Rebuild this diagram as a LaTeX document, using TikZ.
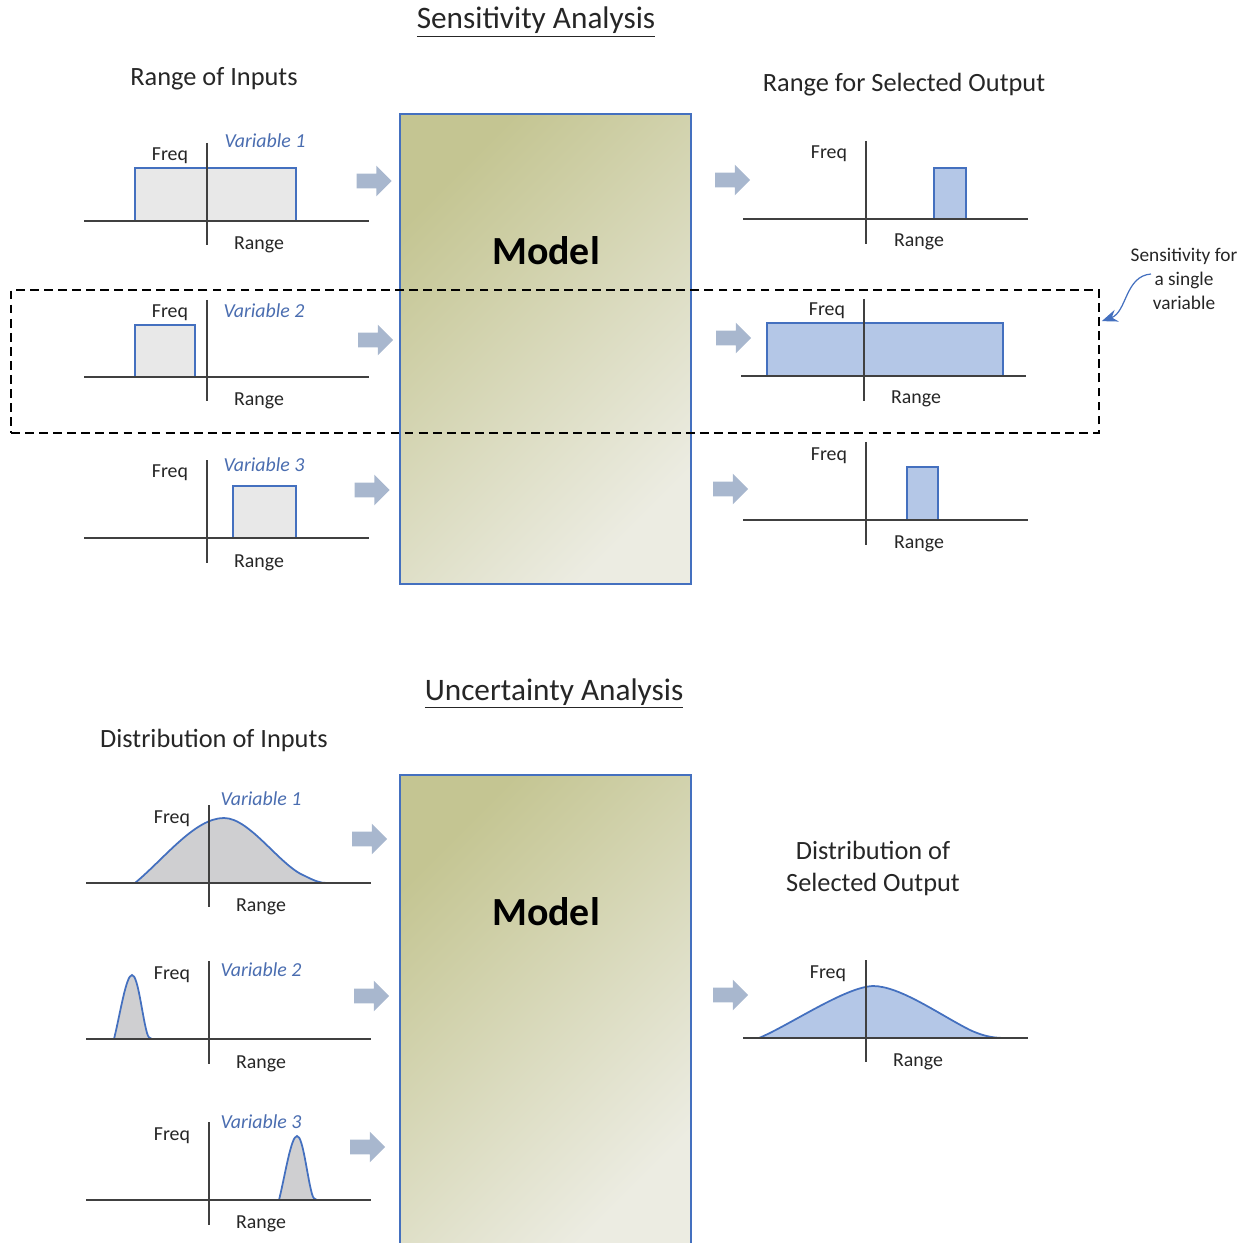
\documentclass[tikz,border=0pt]{standalone}
\usepackage{fontspec}
\setmainfont{Carlito}
\usetikzlibrary{shapes.arrows,arrows.meta,calc}

\definecolor{axisgray}{HTML}{404040}
\definecolor{edgeblue}{HTML}{4470BF}
\definecolor{barblue}{HTML}{B4C7E7}
\definecolor{bargray}{HTML}{E8E8E8}
\definecolor{curvegray}{HTML}{CFCFD1}
\definecolor{flowfill}{HTML}{A8B7CE}
\definecolor{olivedark}{HTML}{C4C592}
\definecolor{olivelight}{HTML}{ECECE2}
\definecolor{labelblue}{HTML}{4A6DB0}
\definecolor{textgray}{HTML}{262626}

\tikzset{
  axisline/.style={draw=axisgray, line width=0.75pt},
  inbar/.style={draw=edgeblue, fill=bargray, line width=1pt},
  outbar/.style={draw=edgeblue, fill=barblue, line width=1pt},
  incurve/.style={draw=edgeblue, fill=curvegray, line width=1pt},
  outcurve/.style={draw=edgeblue, fill=barblue, line width=1pt},
  lbl/.style={font=\fontsize{11.3}{13}\selectfont, text=textgray, anchor=base, inner sep=0pt},
  varlbl/.style={font=\fontsize{11.3}{13}\selectfont\itshape, text=labelblue, anchor=base, inner sep=0pt},
  heading/.style={font=\fontsize{15}{18}\selectfont, text=textgray, anchor=base, inner sep=0pt},
  title/.style={font=\fontsize{17.8}{20}\selectfont, text=textgray, anchor=base, inner sep=0pt},
  flow/.style={single arrow, fill=flowfill, draw=none, inner sep=0.14cm,
    single arrow head extend=0.16cm, minimum height=0.70cm, anchor=center},
  model/.style={draw=edgeblue, line width=1.1pt, minimum width=5.82cm, minimum height=9.4cm,
    left color=olivedark, right color=olivelight, shading angle=45, inner sep=0pt},
  modeltext/.style={font=\fontsize{22.7}{26}\selectfont\bfseries, text=black, anchor=base, inner sep=0pt},
}

\begin{document}
\begin{tikzpicture}[x=0.02cm, y=-0.02cm]
\useasboundingbox (0,0) rectangle (1251,1243);
\clip (0,0) rectangle (1251,1243);

% ---------------- Sensitivity analysis ----------------
\node[title] (stitle) at (536,29) {\underline{Sensitivity Analysis}};
\node[heading] (sin) at (214,86) {Range of Inputs};
\node[heading] (sout) at (904,92) {Range for Selected Output};

% model block
\node[model] (m1) at (545.5,349) {};
\node[modeltext] (m1lbl) at (546,265) {Model};

% input chart 1
\draw[inbar] (135,168) rectangle (296,221);
\draw[axisline] (84,221) -- (369,221);
\draw[axisline] (207,143) -- (207,245);
\node[lbl] (f1) at (170,161) {Freq};
\node[varlbl] (v1) at (265,148) {Variable 1};
\node[lbl] (r1) at (259,250) {Range};

% input chart 2
\draw[inbar] (135,325) rectangle (195,377);
\draw[axisline] (84,377) -- (369,377);
\draw[axisline] (207,300) -- (207,401);
\node[lbl] (f2) at (170,318) {Freq};
\node[varlbl] (v2) at (264,318) {Variable 2};
\node[lbl] (r2) at (259,406) {Range};

% input chart 3
\draw[inbar] (233,486) rectangle (296,538);
\draw[axisline] (84,538) -- (369,538);
\draw[axisline] (207,460) -- (207,563);
\node[lbl] (f3) at (170,478) {Freq};
\node[varlbl] (v3) at (264,471) {Variable 3};
\node[lbl] (r3) at (259,567) {Range};

% output chart 1
\draw[outbar] (934,168) rectangle (966,219);
\draw[axisline] (743,219) -- (1028,219);
\draw[axisline] (866,141) -- (866,244);
\node[lbl] (of1) at (829,159) {Freq};
\node[lbl] (or1) at (919,247) {Range};

% output chart 2
\draw[outbar] (767,323) rectangle (1003,376);
\draw[axisline] (741,376) -- (1026,376);
\draw[axisline] (864,299) -- (864,401);
\node[lbl] (of2) at (827,316) {Freq};
\node[lbl] (or2) at (916,404) {Range};

% output chart 3
\draw[outbar] (907,467) rectangle (938,520);
\draw[axisline] (743,520) -- (1028,520);
\draw[axisline] (866,442) -- (866,545);
\node[lbl] (of3) at (829,460) {Freq};
\node[lbl] (or3) at (919,548) {Range};

% flow arrows into and out of the model
\node[flow] (ia1) at (370.5,181) {};
\node[flow] (ia2) at (372,340) {};
\node[flow] (ia3) at (368.5,490) {};
\node[flow] (oa1) at (729,180) {};
\node[flow] (oa2) at (730,338) {};
\node[flow] (oa3) at (727,489) {};

% one-variable band
\node[draw=black, dashed, dash pattern=on 5pt off 3pt, line width=1pt,
      minimum width=21.76cm, minimum height=2.86cm, inner sep=0pt] (focus) at (555,361.5) {};
\node[font=\fontsize{11}{13.6}\selectfont, text=textgray, align=center, inner sep=0pt]
  (note) at (1184,279) {Sensitivity for\\a single\\variable};
\coordinate (notestart) at (1151,274);
\coordinate (notetip) at ($(focus.north east)+(2,32)$);
\draw[draw=edgeblue, line width=0.7pt, -{Stealth[length=9pt,width=7pt]}]
  (notestart) .. controls (1125,276) and (1127,312) .. (notetip);

% ---------------- Uncertainty analysis ----------------
\node[title] (utitle) at (554,700) {\underline{Uncertainty Analysis}};
\node[heading] (uin) at (214,747) {Distribution of Inputs};
\node[heading, align=center, anchor=center, font=\fontsize{15}{18.2}\selectfont] (uout) at (873,868)
  {Distribution of\\Selected Output};

% model block
\node[model] (m2) at (545.5,1010) {};
\node[modeltext] (m2lbl) at (546,925) {Model};

% input distribution 1
\draw[incurve] (135,883) .. controls (165,858) and (195,818) .. (224,818)
  .. controls (250,818) and (280,866) .. (305,876)
  .. controls (315,881) and (320,883) .. (327,883) -- cycle;
\draw[axisline] (86,883) -- (371,883);
\draw[axisline] (209,805) -- (209,907);
\node[lbl] (uf1) at (172,823) {Freq};
\node[varlbl] (uv1) at (261,805) {Variable 1};
\node[lbl] (ur1) at (261,911) {Range};

% input distribution 2
\draw[incurve] (114,1039) .. controls (120,1015) and (126,975) .. (132,975)
  .. controls (138,975) and (142,1015) .. (147,1033)
  .. controls (148,1037) and (150,1039) .. (152,1039) -- cycle;
\draw[axisline] (86,1039) -- (371,1039);
\draw[axisline] (209,961) -- (209,1064);
\node[lbl] (uf2) at (172,979) {Freq};
\node[varlbl] (uv2) at (261,976) {Variable 2};
\node[lbl] (ur2) at (261,1068) {Range};

% input distribution 3
\draw[incurve] (279,1200) .. controls (285,1176) and (291,1136) .. (297,1136)
  .. controls (303,1136) and (307,1176) .. (312,1194)
  .. controls (313,1198) and (315,1200) .. (317,1200) -- cycle;
\draw[axisline] (86,1200) -- (371,1200);
\draw[axisline] (209,1122) -- (209,1225);
\node[lbl] (uf3) at (172,1140) {Freq};
\node[varlbl] (uv3) at (261,1128) {Variable 3};
\node[lbl] (ur3) at (261,1228) {Range};

% output distribution
\draw[outcurve] (759,1038) .. controls (790,1025) and (845,987) .. (873,986)
  .. controls (900,986) and (940,1015) .. (970,1030)
  .. controls (985,1037) and (995,1038) .. (1006,1038) -- cycle;
\draw[axisline] (743,1038) -- (1028,1038);
\draw[axisline] (866,960) -- (866,1062);
\node[lbl] (uof) at (828,978) {Freq};
\node[lbl] (uor) at (918,1066) {Range};

% flow arrows
\node[flow] (ua1) at (366,839) {};
\node[flow] (ua2) at (368,996) {};
\node[flow] (ua3) at (364,1147) {};
\node[flow] (uoa) at (727,995) {};
\end{tikzpicture}
\end{document}
